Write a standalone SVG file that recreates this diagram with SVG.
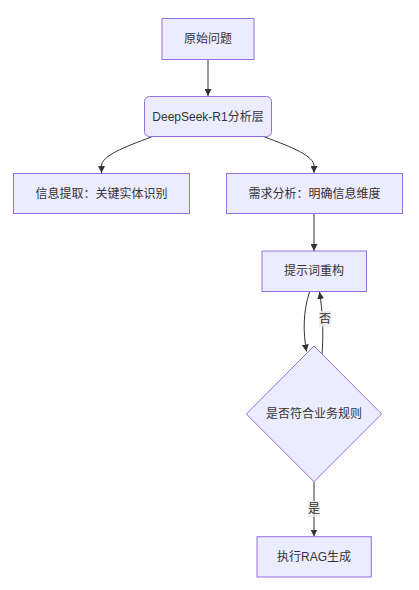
<svg xmlns="http://www.w3.org/2000/svg" width="419" height="590" viewBox="0 0 419 590">
<style>
.node rect,.node polygon{fill:#ECECFF;stroke:#9370DB;stroke-width:1}
.node text{font-family:"Liberation Sans","Noto Sans CJK SC",sans-serif;font-size:12px;fill:#333;text-anchor:middle;dominant-baseline:central}
.edge{fill:none;stroke:#333;stroke-width:1}
.lbl rect{fill:#E8E8E8;opacity:0.8}
.lbl text{font-family:"Liberation Sans","Noto Sans CJK SC",sans-serif;font-size:12px;fill:#333;text-anchor:middle;dominant-baseline:central}
</style>
<defs>
<marker id="arr" viewBox="0 0 10 10" refX="10" refY="5" markerWidth="7" markerHeight="7" markerUnits="userSpaceOnUse" orient="auto">
<path d="M0,0 L10,5 L0,10 z" fill="#333"/>
</marker>
</defs>
<rect width="419" height="590" fill="#fff"/>
<g id="connectors">
<path class="edge" d="M208,59.5 L208,96" marker-end="url(#arr)"/>
<path class="edge" d="M151.5,137 C124,147 101.5,156 101.5,166 L101.5,173" marker-end="url(#arr)"/>
<path class="edge" d="M264.5,137 C292,147 314,156 314,166 L314,173" marker-end="url(#arr)"/>
<path class="edge" d="M314,214 L314,251" marker-end="url(#arr)"/>
<path class="edge" d="M309.5,292 C303,312 303,332 306.5,351.5" marker-end="url(#arr)"/>
<path class="edge" d="M321.7,357.5 C324,335 322.5,310 319.5,292" marker-end="url(#arr)"/>
<path class="edge" d="M314,482 L314,536.5" marker-end="url(#arr)"/>
<g class="lbl"><rect x="319" y="311" width="12" height="16"/><text x="325" y="319">否</text></g>
<g class="lbl"><rect x="308" y="501" width="12" height="16"/><text x="314" y="509">是</text></g>
</g>
<g id="n1" class="node"><rect x="162" y="18.5" width="92" height="41"/><text x="208" y="39">原始问题</text></g>
<g id="n2" class="node"><rect x="144.5" y="96.5" width="127" height="40" rx="5" ry="5"/><text x="208" y="116.5">DeepSeek-R1分析层</text></g>
<g id="n3" class="node"><rect x="13.5" y="173.5" width="176" height="40"/><text x="101.5" y="193.5">信息提取：关键实体识别</text></g>
<g id="n4" class="node"><rect x="226.5" y="173.5" width="176" height="40"/><text x="314.5" y="193.5">需求分析：明确信息维度</text></g>
<g id="n5" class="node"><rect x="262" y="251" width="104.5" height="40.5"/><text x="314" y="271">提示词重构</text></g>
<g id="n6" class="node"><polygon points="314,346 381.7,414 314,481.7 246.3,414"/><text x="314" y="414">是否符合业务规则</text></g>
<g id="n7" class="node"><rect x="257" y="536.7" width="114.3" height="40.3"/><text x="314" y="557">执行RAG生成</text></g>
</svg>
